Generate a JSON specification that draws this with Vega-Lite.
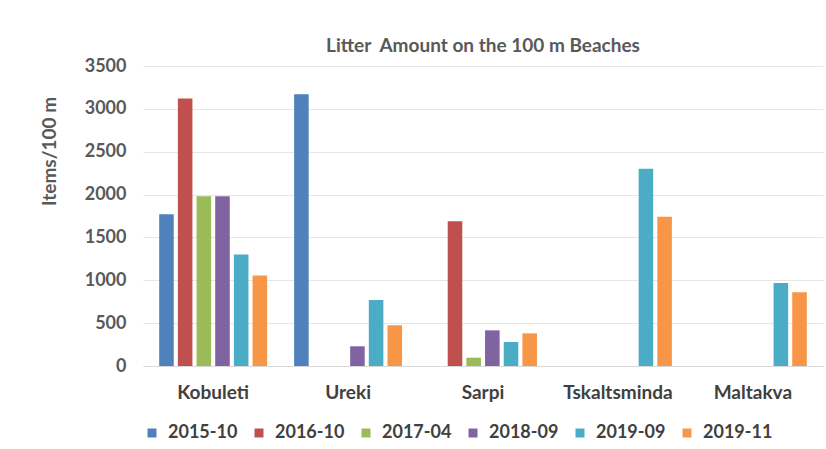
{
  "$schema": "https://vega.github.io/schema/vega-lite/v6.json",
  "width": 680,
  "height": 300,
  "autosize": {"type": "none"},
  "padding": {"left": 143, "top": 66, "right": 3, "bottom": 83},
  "background": "white",
  "title": {
    "text": "Litter\u00a0 Amount on the 100 m Beaches",
    "font": "Lato",
    "fontSize": 19,
    "fontWeight": "bold",
    "color": "#595959",
    "offset": 1
  },
  "data": {
    "values": [
      {"beach": "Kobuleti", "period": "2015-10", "value": 1770},
      {"beach": "Kobuleti", "period": "2016-10", "value": 3120},
      {"beach": "Kobuleti", "period": "2017-04", "value": 1980},
      {"beach": "Kobuleti", "period": "2018-09", "value": 1980},
      {"beach": "Kobuleti", "period": "2019-09", "value": 1300},
      {"beach": "Kobuleti", "period": "2019-11", "value": 1055},
      {"beach": "Ureki", "period": "2015-10", "value": 3170},
      {"beach": "Ureki", "period": "2018-09", "value": 230},
      {"beach": "Ureki", "period": "2019-09", "value": 770},
      {"beach": "Ureki", "period": "2019-11", "value": 475},
      {"beach": "Sarpi", "period": "2016-10", "value": 1688},
      {"beach": "Sarpi", "period": "2017-04", "value": 97},
      {"beach": "Sarpi", "period": "2018-09", "value": 416},
      {"beach": "Sarpi", "period": "2019-09", "value": 280},
      {"beach": "Sarpi", "period": "2019-11", "value": 381},
      {"beach": "Tskaltsminda", "period": "2019-09", "value": 2300},
      {"beach": "Tskaltsminda", "period": "2019-11", "value": 1740},
      {"beach": "Maltakva", "period": "2019-09", "value": 968},
      {"beach": "Maltakva", "period": "2019-11", "value": 860}
    ]
  },
  "mark": {"type": "bar"},
  "encoding": {
    "x": {
      "field": "beach",
      "type": "nominal",
      "sort": ["Kobuleti", "Ureki", "Sarpi", "Tskaltsminda", "Maltakva"],
      "scale": {"paddingInner": 0.2, "paddingOuter": 0.12},
      "axis": {
        "title": null,
        "labelAngle": 0,
        "labelFont": "Lato",
        "labelFontSize": 19,
        "labelFontWeight": "bold",
        "labelColor": "#404040",
        "labelPadding": 17,
        "ticks": false,
        "domainColor": "#d9d9d9"
      }
    },
    "xOffset": {
      "field": "period",
      "type": "nominal",
      "scale": {"domain": ["2015-10", "2016-10", "2017-04", "2018-09", "2019-09", "2019-11"], "paddingInner": 0.22}
    },
    "y": {
      "field": "value",
      "type": "quantitative",
      "scale": {"domain": [0, 3500]},
      "axis": {
        "title": "Items/100 m",
        "titleFont": "Lato",
        "titleFontSize": 19,
        "titleFontWeight": "bold",
        "titleColor": "#595959",
        "titleX": -84,
        "titleY": 85,
        "values": [0, 500, 1000, 1500, 2000, 2500, 3000, 3500],
        "format": "d",
        "labelFont": "Lato",
        "labelFontSize": 18,
        "labelFontWeight": "bold",
        "labelColor": "#595959",
        "labelPadding": 17,
        "ticks": false,
        "domain": false,
        "gridColor": "#e6e6e6"
      }
    },
    "color": {
      "field": "period",
      "type": "nominal",
      "scale": {
        "domain": ["2015-10", "2016-10", "2017-04", "2018-09", "2019-09", "2019-11"],
        "range": ["#4F81BD", "#C0504D", "#9BBB59", "#8064A2", "#4BACC6", "#F79646"]
      },
      "legend": {
        "title": null,
        "orient": "none",
        "direction": "horizontal",
        "legendX": 0,
        "legendY": 358,
        "padding": 0,
        "symbolType": "square",
        "symbolSize": 81,
        "symbolStrokeWidth": 0,
        "labelFont": "Lato",
        "labelFontSize": 18,
        "labelFontWeight": "bold",
        "labelColor": "#404040",
        "labelOffset": 7,
        "columnPadding": 12
      }
    }
  },
  "config": {"view": {"stroke": null}}
}
